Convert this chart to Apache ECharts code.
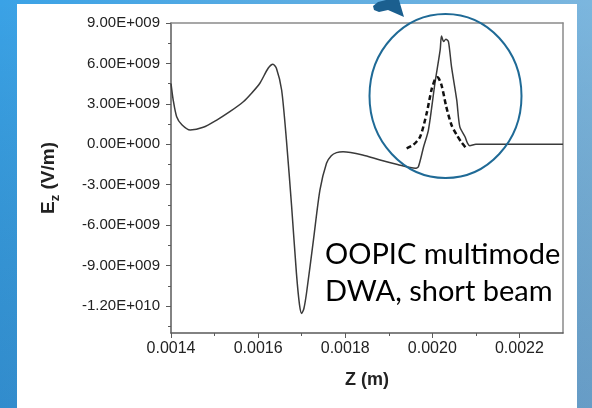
<!DOCTYPE html>
<html><head><meta charset="utf-8">
<script src="https://cdn.jsdelivr.net/npm/echarts@6/dist/echarts.min.js"></script>
<style>html,body{margin:0;padding:0;background:#fff}#c{width:592px;height:408px}</style>
</head><body><div id="c"></div>
<script>
// ---- data (z in m, Ez in V/m) ----
const solidZ = [0.001400,0.001405,0.001413,0.001425,0.001444,0.001474,0.001505,0.001535,0.001566,0.001585,0.001604,0.001623,0.001634,0.001642,0.001654,0.001665,0.001677,0.001688,0.001695,0.001700,0.001705,0.001711,0.001727,0.001742,0.001757,0.001768,0.001780,0.001795,0.001840,0.001880,0.001920,0.001961,0.001968,0.001980,0.001991,0.002006,0.002018,0.002021,0.002026,0.002031,0.002037,0.002044,0.002056,0.002063,0.002075,0.002081,0.002086,0.002100,0.002300];
const solidEz = [4.5e9,3.3e9,2.05e9,1.45e9,1.06e9,1.26e9,1.8e9,2.42e9,3.16e9,3.79e9,4.53e9,5.64e9,5.94e9,5.64e9,4.03e9,0.32e9,-4.63e9,-9.58e9,-11.9e9,-12.55e9,-12.2e9,-11.07e9,-7.11e9,-3.39e9,-1.41e9,-0.85e9,-0.62e9,-0.55e9,-0.79e9,-1.17e9,-1.5e9,-1.78e9,-1.66e9,-0.18e9,1.06e9,4.53e9,7.0e9,8.04e9,7.62e9,7.8e9,7.62e9,5.76e9,3.29e9,1.31e9,0.56e9,0.07e9,-0.1e9,0,0];
const dashZ = [0.001941,0.001956,0.001972,0.001987,0.001998,0.002006,0.002012,0.002021,0.002032,0.002044,0.002056,0.002066,0.002078];
const dashEz = [-0.3e9,-0.05e9,0.56e9,2.3e9,4.03e9,4.8e9,4.97e9,4.4e9,2.79e9,1.43e9,0.69e9,0.19e9,-0.3e9];
const xTicks = [0.0014,0.0016,0.0018,0.0020,0.0022];
const xMinorTicks = [0.0015,0.0017,0.0019,0.0021];
const yTicks = [-1.2e10,-9e9,-6e9,-3e9,0,3e9,6e9,9e9];
const yMinorTicks = [-1.35e10,-1.05e10,-7.5e9,-4.5e9,-1.5e9,1.5e9,4.5e9,7.5e9];
const xTitle = 'Z (m)';
const annotation = 'OOPIC multimode\nDWA, short beam';

function sci(v){
  if (v === 0) return '0.00E+000';
  const s = v < 0 ? '-' : '';
  const a = Math.abs(v);
  let e = Math.floor(Math.log10(a) + 1e-9);
  let m = a / Math.pow(10, e);
  return s + m.toFixed(2) + 'E+' + String(e).padStart(3,'0');
}

const chart = echarts.init(document.getElementById('c'));
const axisCol = '#5a5a5a';
const FF = 'Liberation Sans, Arial, sans-serif';
const labelFont = {fontFamily:FF, color:'#222'};
chart.setOption({
  animation:false,
  backgroundColor:'transparent',
  grid:{left:171, top:23, right:29, bottom:75},
  xAxis:[
    {type:'value', min:0.0014, max:0.0023, position:'bottom',
     axisLine:{show:true, onZero:false, lineStyle:{color:axisCol, width:1.5}},
     axisTick:{show:true, customValues:xTicks, length:5, lineStyle:{color:axisCol}},
     axisLabel:{show:true, customValues:xTicks, margin:8, fontSize:16, formatter:v=>v.toFixed(4), ...labelFont},
     splitLine:{show:false},
     name:xTitle, nameLocation:'middle', nameGap:38,
     nameTextStyle:{fontSize:18, fontWeight:'bold', color:'#222', fontFamily:FF}},
    {type:'value', min:0.0014, max:0.0023, position:'bottom',
     axisLine:{show:false, onZero:false},
     axisTick:{show:true, customValues:xMinorTicks, length:3, lineStyle:{color:axisCol}},
     axisLabel:{show:false}, splitLine:{show:false}},
    {type:'value', min:0.0014, max:0.0023, position:'top',
     axisLine:{show:true, onZero:false, lineStyle:{color:'#8a8a8a', width:1.5}},
     axisTick:{show:false}, axisLabel:{show:false}, splitLine:{show:false}}
  ],
  yAxis:[
    {type:'value', min:-1.4e10, max:9e9, position:'left',
     axisLine:{show:true, onZero:false, lineStyle:{color:axisCol, width:1.5}},
     axisTick:{show:true, customValues:yTicks, length:5, lineStyle:{color:axisCol}},
     axisLabel:{show:true, customValues:yTicks, margin:11, fontSize:15, formatter:sci, ...labelFont},
     splitLine:{show:false},
     name:'{e|E}{z|z}{u| (V/m)}', nameLocation:'middle', nameGap:113, nameRotate:90,
     nameTextStyle:{rich:{
       e:{fontSize:19, fontWeight:'bold', color:'#222', fontFamily:FF, verticalAlign:'bottom'},
       z:{fontSize:13, fontWeight:'bold', color:'#222', fontFamily:FF, verticalAlign:'bottom', padding:[0,0,-4,0]},
       u:{fontSize:19, fontWeight:'bold', color:'#222', fontFamily:FF, verticalAlign:'bottom'}}}},
    {type:'value', min:-1.4e10, max:9e9, position:'left',
     axisLine:{show:false, onZero:false},
     axisTick:{show:true, customValues:yMinorTicks, length:3, lineStyle:{color:axisCol}},
     axisLabel:{show:false}, splitLine:{show:false}},
    {type:'value', min:-1.4e10, max:9e9, position:'right',
     axisLine:{show:true, onZero:false, lineStyle:{color:'#8a8a8a', width:1.5}},
     axisTick:{show:false}, axisLabel:{show:false}, splitLine:{show:false}}
  ],
  series:[
    {type:'line', xAxisIndex:0, yAxisIndex:0, showSymbol:false, smooth:0.25,
     data:solidZ.map((z,i)=>[z, solidEz[i]]),
     lineStyle:{color:'#3a3a3a', width:1.5}},
    {type:'line', xAxisIndex:0, yAxisIndex:0, showSymbol:false, smooth:0.25,
     data:dashZ.map((z,i)=>[z, dashEz[i]]),
     lineStyle:{color:'#111', width:2.5, type:[5,3]}}
  ],
  graphic:[
    {type:'rect', z:-100, shape:{x:0,y:0,width:592,height:408},
     style:{fill:new echarts.graphic.LinearGradient(0,0,1,0,[{offset:0,color:'#3aa2e6'},{offset:1,color:'#7cb6de'}])}},
    {type:'rect', z:-99, shape:{x:0,y:0,width:592,height:408},
     style:{fill:new echarts.graphic.LinearGradient(0,0,0,1,[{offset:0,color:'rgba(0,0,0,0)'},{offset:1,color:'rgba(10,40,90,0.18)'}])}},
    {type:'rect', z:-98, shape:{x:17,y:4,width:560,height:404}, style:{fill:'#ffffff'}},
    {type:'ellipse', z:100, shape:{cx:445.5, cy:96, rx:76, ry:82},
     style:{fill:'none', stroke:'#1f6a96', lineWidth:2}},
    {type:'polygon', z:100, shape:{points:[[373,6],[378,2],[386,0],[399,0],[404,17],[388,10],[379,12],[374,10]]},
     style:{fill:'#1b5f8f'}},
    {type:'text', z:100, left:325, top:236,
     style:{text:annotation, font:'29px Lato', fill:'#000', lineHeight:37}}
  ]
});
</script></body></html>
